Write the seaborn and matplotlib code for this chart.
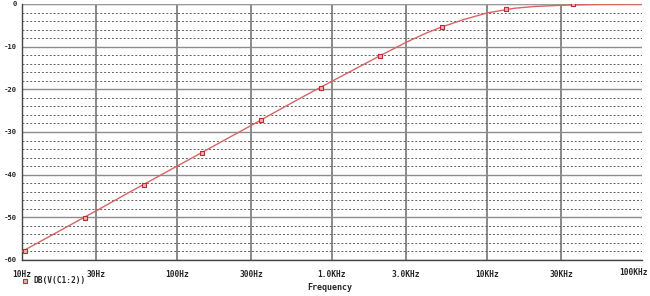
import matplotlib
matplotlib.use("Agg")
import matplotlib.pyplot as plt
import matplotlib.transforms as mtransforms
import seaborn as sns
import numpy as np
import pandas as pd

# ---- data ----
curve_freq = [10, 15, 20, 30, 50, 70, 100, 150, 200, 300, 500, 700, 1000, 1500,
              2000, 3000, 4000, 5000, 7000, 10000, 15000, 20000, 30000, 50000, 70000, 100000]
curve_db = [-58.0, -54.5, -52.0, -48.5, -44.0, -41.1, -38.0, -34.5, -32.0, -28.5,
            -24.0, -21.1, -18.1, -14.7, -12.3, -9.0, -6.9, -5.5, -3.7, -2.1,
            -1.0, -0.6, -0.3, -0.1, -0.05, -0.03]
marker_freq = [10.5, 25.5, 61, 146, 350, 845, 2040, 5100, 13300, 36000]
marker_db = [-58.0, -50.2, -42.5, -35.0, -27.3, -19.8, -12.1, -5.3, -1.25, -0.1]
xtick_vals = [10, 30, 100, 300, 1000, 3000, 10000, 30000, 100000]
xtick_labels = ["10Hz", "30Hz", "100Hz", "300Hz", "1.0KHz", "3.0KHz", "10KHz", "30KHz", "100KHz"]
ytick_vals = [0, -10, -20, -30, -40, -50, -60]
ytick_labels = ["0", "-10", "-20", "-30", "-40", "-50", "-60"]
trace_name = "DB(V(C1:2))"
xlabel = "Frequency"

sns.set_style("white")
plt.rcParams['font.family'] = ['DejaVu Sans Mono', 'DejaVu Sans']

fig = plt.figure(figsize=(6.5, 2.96), dpi=100)
ax = fig.add_axes([22/650, 1 - 260/296, 620/650, 256/296])

ax.set_xscale("log")
ax.set_xlim(10, 100000)
ax.set_ylim(-60, 0)

# grid
for v in xtick_vals[1:-1]:
    ax.axvline(v, color="#808080", lw=1.3, zorder=1)
for v in ytick_vals:
    ax.axhline(v, color="#8c8c8c", lw=1.0, zorder=1)
for v in np.arange(-58, 0, 2):
    if v % 10 != 0:
        ax.axhline(v, color="#606060", lw=0.7, ls=(0, (2, 2)), zorder=1)
ax.axhline(0, color="#9a9a9a", lw=1.6, zorder=1)

df_curve = pd.DataFrame({"f": curve_freq, "db": curve_db})
df_mark = pd.DataFrame({"f": marker_freq, "db": marker_db})
sns.lineplot(data=df_curve, x="f", y="db", ax=ax, color="#d86464", lw=1.0, zorder=3)
sns.scatterplot(data=df_mark, x="f", y="db", ax=ax, marker="s", s=9,
                facecolor="#f0b0b0", edgecolor="#b83030", linewidth=0.8, zorder=4)

ax.set_xticks(xtick_vals)
ax.set_xticklabels(xtick_labels)
ax.minorticks_off()
ax.set_yticks(ytick_vals)
ax.set_yticklabels(ytick_labels)
ax.tick_params(axis="x", direction="out", length=3, width=0.8, color="#444444",
               labelsize=5.7, pad=4)
ax.tick_params(axis="y", direction="out", length=2, width=0.8, color="#444444",
               labelsize=5.2, pad=1.5)
for lab in ax.get_xticklabels() + ax.get_yticklabels():
    lab.set_fontweight("bold")
last = ax.get_xticklabels()[-1]
last.set_horizontalalignment("right")
last.set_transform(last.get_transform() +
                   mtransforms.ScaledTranslation(6/100, 2/100, fig.dpi_scale_trans))
ax.set_xlabel("")
ax.set_ylabel("")

for s in ["top", "right"]:
    ax.spines[s].set_visible(False)
ax.spines["left"].set_color("#444444")
ax.spines["bottom"].set_color("#444444")
ax.spines["left"].set_linewidth(1.0)
ax.spines["bottom"].set_linewidth(1.0)

fig.text(330/650, 1 - 287/296, xlabel, ha="center", va="center", fontsize=6.0,
         fontweight="bold")
fig.text(33/650, 1 - 281/296, trace_name, ha="left", va="center", fontsize=5.7,
         fontweight="bold")
fig.add_artist(plt.Line2D([24.5/650], [1 - 281/296], marker="s", markersize=3,
                          markerfacecolor="#f0b0b0", markeredgecolor="#b83030",
                          markeredgewidth=0.8, transform=fig.transFigure))

fig.savefig("out.png", dpi=100)
